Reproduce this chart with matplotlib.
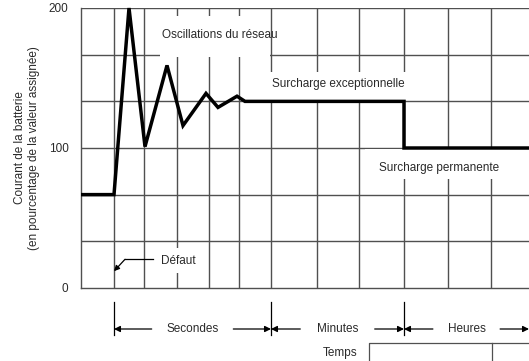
import matplotlib
matplotlib.use("Agg")
import matplotlib.pyplot as plt
from matplotlib.patches import Rectangle
from matplotlib.transforms import blended_transform_factory

plt.rcParams['font.family'] = ['Liberation Sans', 'DejaVu Sans']

# Time axis positions (arbitrary, piecewise scale: seconds / minutes / hours)
grid_x = [33, 63, 96, 128, 158, 190, 236, 278, 323, 367, 410]
grid_y = [33.3, 66.7, 100, 133.3, 166.7, 200]
y_ticks = [0, 100, 200]
y_tick_labels = ["0", "100", "200"]

# Battery current, % of rated value
curve_t = [0, 33, 48, 64, 86, 102, 125, 137, 156, 164, 323, 323, 448]
curve_i = [66.7, 66.7, 200, 101, 159, 116, 139, 129, 137, 133.3, 133.3, 100, 100]

# Time sections (start, end, label)
sections = [(33, 190, "Secondes"), (190, 323, "Minutes"), (323, 448, "Heures")]

W, H = 529, 361
fig = plt.figure(figsize=(W / 100, H / 100), dpi=100)
ax = fig.add_axes([81 / W, (H - 288) / H, 448 / W, 280 / H])
ax.set_xlim(0, 448)
ax.set_ylim(0, 200)

grid_col = "#505050"
txt_col = "#2a2a2a"

for gx in grid_x:
    ax.axvline(gx, color=grid_col, lw=1.0, zorder=1)
for gy in grid_y:
    ax.axhline(gy, color=grid_col, lw=1.0, zorder=1)

for s in ["top", "right"]:
    ax.spines[s].set_visible(False)
for s in ["left", "bottom"]:
    ax.spines[s].set_color(grid_col)
    ax.spines[s].set_linewidth(1.0)

ax.set_xticks([])
ax.set_yticks(y_ticks)
ax.set_yticklabels(y_tick_labels)
ax.tick_params(axis="y", length=0, pad=9, labelsize=8.5, labelcolor=txt_col)

# white label backgrounds that hide the grid
def cover(x0, x1, y0, y1):
    ax.add_patch(Rectangle((x0, y0), x1 - x0, y1 - y0, facecolor="white",
                           edgecolor="none", zorder=2))

cover(79, 189, 165, 194)
cover(169, 339, 134.5, 154)
cover(284, 429, 78, 99)
cover(74, 119, 10.7, 28.6)

ax.plot(curve_t, curve_i, color="black", lw=2.5, zorder=4, clip_on=False,
        solid_joinstyle="miter", solid_capstyle="butt")

ax.text(81, 181, "Oscillations du réseau", ha="left", va="center",
        fontsize=8.5, color=txt_col, zorder=5)
ax.text(191, 145.5, "Surcharge exceptionnelle", ha="left", va="center",
        fontsize=8.5, color=txt_col, zorder=5)
ax.text(298, 86, "Surcharge permanente", ha="left", va="center",
        fontsize=8.5, color=txt_col, zorder=5)
ax.text(80, 19.5, "Défaut", ha="left", va="center",
        fontsize=8.5, color=txt_col, zorder=5)

# Défaut pointer
ax.plot([72, 44], [20.5, 20.5], color="black", lw=0.9, zorder=5)
ax.annotate("", xy=(33, 12), xytext=(44, 20.5),
            arrowprops=dict(arrowstyle="-|>", color="black", lw=0.9,
                            mutation_scale=8, shrinkA=0, shrinkB=0), zorder=5)

ax.set_ylabel("Courant de la batterie\n(en pourcentage de la valeur assignée)",
              fontsize=8.5, color=txt_col, labelpad=6, linespacing=1.2)

# time section arrows below the axis
tr = blended_transform_factory(ax.transData, ax.transAxes)
def fy(py):
    return (288 - py) / 280

for x in [33, 190, 323]:
    ax.plot([x, x], [fy(302), fy(335)], color="black", lw=0.9,
            transform=tr, clip_on=False)

arrow_y = fy(329)
for x0, x1, label in sections:
    xm = (x0 + x1) / 2
    ax.text(xm, arrow_y, label, transform=tr, ha="center", va="center",
            fontsize=8.5, color=txt_col)
    half = len(label) * 3.6 + 12
    ax.annotate("", xy=(x0, arrow_y), xytext=(xm - half, arrow_y),
                xycoords=tr, textcoords=tr,
                arrowprops=dict(arrowstyle="-|>", color="black", lw=0.9,
                                mutation_scale=9, shrinkA=0, shrinkB=0),
                annotation_clip=False)
    ax.annotate("", xy=(x1, arrow_y), xytext=(xm + half, arrow_y),
                xycoords=tr, textcoords=tr,
                arrowprops=dict(arrowstyle="-|>", color="black", lw=0.9,
                                mutation_scale=9, shrinkA=0, shrinkB=0),
                annotation_clip=False)

# "Temps" header and table frame
ax.text(340 - 81, fy(353), "Temps", transform=tr, ha="center", va="center",
        fontsize=8.5, color=txt_col)
ax.plot([288, 288, 460], [fy(370), fy(343), fy(343)], color=grid_col,
        lw=0.9, transform=tr, clip_on=False)
ax.plot([411, 411], [fy(343), fy(370)], color=grid_col, lw=0.9,
        transform=tr, clip_on=False)
ax.text(350, fy(367), "Secondes", transform=tr, ha="center", va="center",
        fontsize=8.5, color=txt_col)

fig.savefig("out.png", dpi=100)
